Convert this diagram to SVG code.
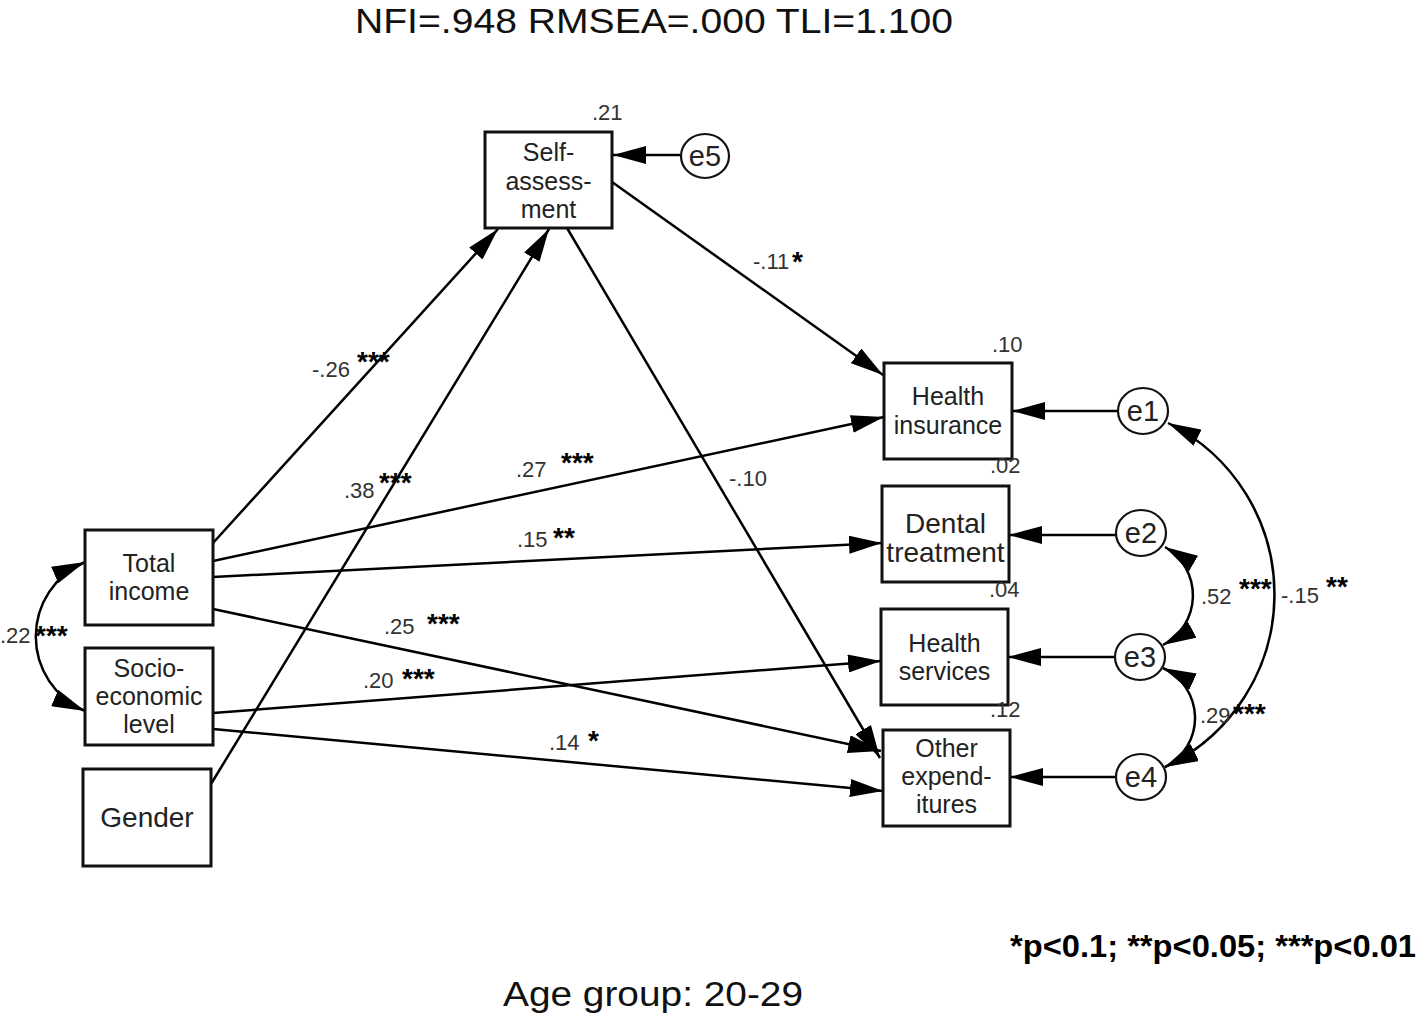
<svg xmlns="http://www.w3.org/2000/svg" width="1418" height="1016" viewBox="0 0 1418 1016">
<defs>
<marker id="ah" markerUnits="userSpaceOnUse" markerWidth="33" markerHeight="18" viewBox="0 0 33 18" refX="33" refY="9" orient="auto-start-reverse">
<path d="M0,0 L33,9 L0,18 z" fill="#000"/>
</marker>
<style>
.box{fill:#fff;stroke:#111;stroke-width:3}
.err{fill:#fff;stroke:#111;stroke-width:2.2}
.ln{fill:none;stroke:#000;stroke-width:2.5}
.arr{marker-end:url(#ah)}
.both{marker-start:url(#ah);marker-end:url(#ah)}
.nt{font-family:"Liberation Sans",Arial,sans-serif;font-size:25px;fill:#222;text-anchor:middle}
.big{font-size:28px}
.et{font-family:"Liberation Sans",Arial,sans-serif;font-size:29px;fill:#222;text-anchor:middle}
.num{font-family:"Liberation Sans",Arial,sans-serif;font-size:22px;fill:#333}
.st{font-family:"Liberation Sans",Arial,sans-serif;font-size:28px;font-weight:bold;fill:#000}
.ttl{font-family:"Liberation Sans",Arial,sans-serif;font-size:35px;fill:#111}
</style>
</defs>
<rect width="1418" height="1016" fill="#fff"/>

<text class="ttl" x="355" y="33" textLength="598" lengthAdjust="spacingAndGlyphs">NFI=.948 RMSEA=.000 TLI=1.100</text>

<g id="connectors">
<line class="ln arr" x1="213" y1="543" x2="498" y2="229"/>
<line class="ln arr" x1="211" y1="784" x2="549" y2="229"/>
<line class="ln arr" x1="612" y1="182" x2="883" y2="375"/>
<line class="ln arr" x1="567" y1="228" x2="880" y2="758"/>
<line class="ln arr" x1="213" y1="561" x2="884" y2="417"/>
<line class="ln arr" x1="213" y1="577" x2="882" y2="543"/>
<line class="ln arr" x1="213" y1="609" x2="881" y2="751"/>
<line class="ln arr" x1="213" y1="713" x2="881" y2="661"/>
<line class="ln arr" x1="213" y1="729" x2="883" y2="791"/>
<line class="ln arr" x1="681" y1="155" x2="613" y2="155"/>
<line class="ln arr" x1="1118" y1="411" x2="1012" y2="411"/>
<line class="ln arr" x1="1116" y1="535" x2="1009" y2="535"/>
<line class="ln arr" x1="1115" y1="657" x2="1008" y2="657"/>
<line class="ln arr" x1="1116" y1="777" x2="1010" y2="777"/>
<path class="ln both" d="M85,562 A81,81 0 0 0 85,711"/>
<path class="ln both" d="M1168,423 A191,191 0 0 1 1165,767"/>
<path class="ln both" d="M1165,547 A56,56 0 0 1 1163,645"/>
<path class="ln both" d="M1163,668 A55,55 0 0 1 1165,767"/>
</g>

<g id="self-assessment">
<rect class="box" x="485" y="132" width="127" height="96"/>
<text class="nt" x="548.5" y="161">Self-</text>
<text class="nt" x="548.5" y="190">assess-</text>
<text class="nt" x="548.5" y="218">ment</text>
<text class="num" x="592" y="120">.21</text>
</g>
<g id="e5">
<ellipse class="err" cx="705" cy="156" rx="24" ry="22"/>
<text class="et" x="705" y="166">e5</text>
</g>

<g id="total-income">
<rect class="box" x="85" y="530" width="128" height="95"/>
<text class="nt" x="149" y="572">Total</text>
<text class="nt" x="149" y="600">income</text>
</g>
<g id="socio-economic">
<rect class="box" x="85" y="648" width="128" height="97"/>
<text class="nt" x="149" y="677">Socio-</text>
<text class="nt" x="149" y="705">economic</text>
<text class="nt" x="149" y="733">level</text>
</g>
<g id="gender">
<rect class="box" x="83" y="769" width="128" height="97"/>
<text class="nt big" x="147" y="827">Gender</text>
</g>

<g id="health-insurance">
<rect class="box" x="884" y="363" width="128" height="96"/>
<text class="nt" x="948" y="405">Health</text>
<text class="nt" x="948" y="434">insurance</text>
<text class="num" x="992" y="352">.10</text>
</g>
<g id="dental-treatment">
<rect class="box" x="882" y="486" width="127" height="96"/>
<text class="nt big" x="945.5" y="533">Dental</text>
<text class="nt big" x="945.5" y="562">treatment</text>
<text class="num" x="990" y="473">.02</text>
</g>
<g id="health-services">
<rect class="box" x="881" y="609" width="127" height="96"/>
<text class="nt" x="944.5" y="652">Health</text>
<text class="nt" x="944.5" y="680">services</text>
<text class="num" x="989" y="597">.04</text>
</g>
<g id="other-expenditures">
<rect class="box" x="883" y="730" width="127" height="96"/>
<text class="nt" x="946.5" y="757">Other</text>
<text class="nt" x="946.5" y="785">expend-</text>
<text class="nt" x="946.5" y="813">itures</text>
<text class="num" x="990" y="717">.12</text>
</g>

<g id="e1"><ellipse class="err" cx="1143" cy="411" rx="25" ry="23"/><text class="et" x="1143" y="421">e1</text></g>
<g id="e2"><ellipse class="err" cx="1141" cy="533" rx="25" ry="23"/><text class="et" x="1141" y="543">e2</text></g>
<g id="e3"><ellipse class="err" cx="1140" cy="657" rx="25" ry="23"/><text class="et" x="1140" y="667">e3</text></g>
<g id="e4"><ellipse class="err" cx="1141" cy="777" rx="25" ry="23"/><text class="et" x="1141" y="787">e4</text></g>

<g id="labels">
<text class="num" x="753" y="269">-.11</text><text class="st" x="792" y="271">*</text>
<text class="num" x="312" y="377">-.26</text><text class="st" x="357" y="371">***</text>
<text class="num" x="344" y="498">.38</text><text class="st" x="379" y="492">***</text>
<text class="num" x="516" y="477">.27</text><text class="st" x="561" y="472">***</text>
<text class="num" x="729" y="486">-.10</text>
<text class="num" x="517" y="547">.15</text><text class="st" x="553" y="547">**</text>
<text class="num" x="384" y="634">.25</text><text class="st" x="427" y="633">***</text>
<text class="num" x="363" y="688">.20</text><text class="st" x="402" y="688">***</text>
<text class="num" x="549" y="750">.14</text><text class="st" x="588" y="750">*</text>
<text class="num" x="0" y="643">.22</text><text class="st" x="35" y="645">***</text>
<text class="num" x="1201" y="604">.52</text><text class="st" x="1239" y="598">***</text>
<text class="num" x="1281" y="603">-.15</text><text class="st" x="1326" y="596">**</text>
<text class="num" x="1200" y="723">.29</text><text class="st" x="1233" y="723">***</text>
</g>

<text x="1010" y="957" font-family="'Liberation Sans',Arial,sans-serif" font-size="32" font-weight="bold" fill="#000" textLength="406" lengthAdjust="spacingAndGlyphs">*p&lt;0.1; **p&lt;0.05; ***p&lt;0.01</text>
<text class="ttl" x="503" y="1006" textLength="300" lengthAdjust="spacingAndGlyphs">Age group: 20-29</text>
</svg>
